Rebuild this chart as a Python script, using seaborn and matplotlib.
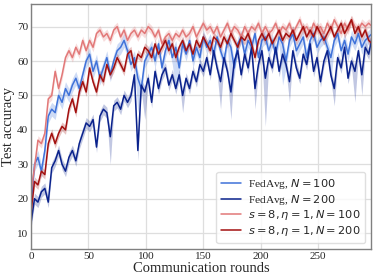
import numpy as np
import pandas as pd
import matplotlib
matplotlib.use('Agg')
import matplotlib.pyplot as plt
import seaborn as sns

# communication rounds sampled every 3 rounds
rounds = list(range(0, 300, 3))

fedavg_100 = [
    18, 30, 32, 28, 34, 44, 46, 45, 50, 48, 52, 50, 53, 55, 52, 56, 60,
    62, 57, 60, 55, 58, 61, 56, 60, 63, 64, 66, 63, 59, 61, 55, 52, 60,
    62, 64, 60, 65, 58, 63, 66, 61, 64, 58, 65, 62, 66, 60, 64, 61, 67,
    64, 66, 62, 67, 63, 60, 66, 64, 58, 65, 67, 62, 66, 64, 68, 61, 66,
    67, 63, 66, 62, 67, 65, 60, 66, 68, 63, 65, 67, 61, 66, 68, 64, 66,
    67, 64, 61, 66, 68, 63, 66, 62, 67, 65, 68, 64, 66, 67, 68,
]
fedavg_200 = [
    13, 20, 19, 22, 23, 19, 29, 31, 34, 30, 28, 32, 34, 31, 36, 39, 42,
    41, 43, 35, 44, 46, 45, 38, 47, 48, 46, 50, 48, 50, 56, 34, 53, 51,
    55, 48, 57, 52, 56, 58, 53, 56, 52, 56, 50, 55, 52, 57, 54, 59, 57,
    61, 56, 63, 58, 54, 61, 57, 51, 60, 63, 56, 62, 58, 64, 52, 59, 63,
    55, 61, 58, 64, 57, 62, 59, 54, 63, 58, 55, 62, 59, 65, 57, 61, 54,
    60, 63, 56, 52, 61, 58, 64, 55, 60, 57, 63, 56, 64, 62, 67,
]
s8_100 = [
    22, 29, 37, 36, 39, 49, 50, 57, 52, 56, 61, 63, 61, 64, 62, 66, 63,
    66, 64, 68, 69, 67, 68, 66, 69, 70, 67, 69, 66, 68, 69, 67, 69, 68,
    70, 69, 67, 69, 65, 67, 68, 66, 68, 67, 69, 67, 68, 70, 67, 69, 71,
    69, 70, 68, 70, 67, 69, 71, 68, 70, 69, 67, 70, 68, 70, 69, 71, 68,
    70, 68, 69, 71, 68, 70, 69, 71, 68, 70, 72, 69, 70, 68, 71, 69, 70,
    68, 71, 69, 72, 70, 68, 71, 69, 72, 70, 69, 71, 70, 71, 70,
]
s8_200 = [
    16, 25, 24, 28, 27, 36, 39, 36, 39, 41, 40, 46, 49, 45, 51, 54, 51,
    58, 54, 51, 56, 54, 59, 56, 58, 61, 59, 57, 62, 63, 58, 62, 61, 64,
    63, 61, 65, 62, 64, 66, 63, 65, 61, 64, 66, 63, 65, 62, 66, 64, 67,
    65, 63, 67, 66, 64, 67, 65, 68, 66, 64, 67, 66, 68, 65, 61, 66, 68,
    66, 68, 65, 67, 69, 66, 68, 67, 69, 66, 68, 70, 67, 69, 67, 70, 68,
    66, 68, 70, 67, 69, 71, 68, 70, 72, 68, 70, 67, 69, 66, 65,
]

# half-width of the shaded band around each curve
spreads = [2.0, 1.6, 1.3, 1.3]
# rounds where the lower edge of the band dips further (round, value)
fedavg_100_dips = [(93, 45), (126, 52), (174, 50), (219, 53), (261, 54)]
fedavg_200_dips = [(69, 30), (93, 31), (99, 43), (132, 45), (165, 46),
                   (174, 43), (195, 46), (204, 41), (225, 48), (264, 47),
                   (282, 48), (288, 50)]

labels = ["FedAvg, $N=100$", "FedAvg, $N=200$",
          r"$s=8, \eta=1, N=100$", r"$s=8, \eta=1, N=200$"]
colors = ["#3f72d9", "#0a228c", "#e27878", "#a3100f"]

df = pd.DataFrame({
    "round": rounds * 4,
    "acc": fedavg_100 + fedavg_200 + s8_100 + s8_200,
    "run": np.repeat(labels, len(rounds)),
})

sns.set_theme(style="whitegrid")
plt.rcParams['font.family'] = ['Liberation Serif', 'DejaVu Serif']
plt.rcParams['mathtext.fontset'] = 'dejavusans'

fig, ax = plt.subplots(figsize=(3.74, 2.8), dpi=100)
fig.subplots_adjust(left=0.083, right=0.992, top=0.986, bottom=0.111)

series = [fedavg_100, fedavg_200, s8_100, s8_200]
dips = [fedavg_100_dips, fedavg_200_dips, [], []]
for vals, sp, dp, col in zip(series, spreads, dips, colors):
    v = np.array(vals, dtype=float)
    lo = v - sp
    hi = v + sp
    for r, d in dp:
        lo[rounds.index(r)] = d
    ax.fill_between(rounds, lo, hi, color=col, alpha=0.25, linewidth=0)

sns.lineplot(data=df, x="round", y="acc", hue="run", palette=colors,
             linewidth=1.1, ax=ax)

ax.set_xlim(0, 296)
ax.set_ylim(5.4, 76.6)
ax.set_xticks([0, 50, 100, 150, 200, 250])
ax.set_yticks([10, 20, 30, 40, 50, 60, 70])
ax.tick_params(labelsize=8, pad=2, length=0)
ax.set_xlabel("Communication rounds", fontsize=10.5)
ax.set_ylabel("Test accuracy", fontsize=10.5)
ax.xaxis.set_label_coords(0.5, -0.055)
ax.yaxis.set_label_coords(-0.047, 0.5)
ax.grid(color="#dedede", linewidth=0.9)
for s in ax.spines.values():
    s.set_color("#808080")
    s.set_linewidth(1.0)

leg = ax.legend(loc="lower right", fontsize=8.2, handlelength=1.7,
                frameon=True, borderpad=0.45, labelspacing=0.15,
                handletextpad=0.6, borderaxespad=0.5)
leg.get_frame().set_edgecolor("#d8d8d8")
for line in leg.get_lines():
    line.set_linewidth(1.1)

plt.savefig("out.png", dpi=100)
plt.close()
